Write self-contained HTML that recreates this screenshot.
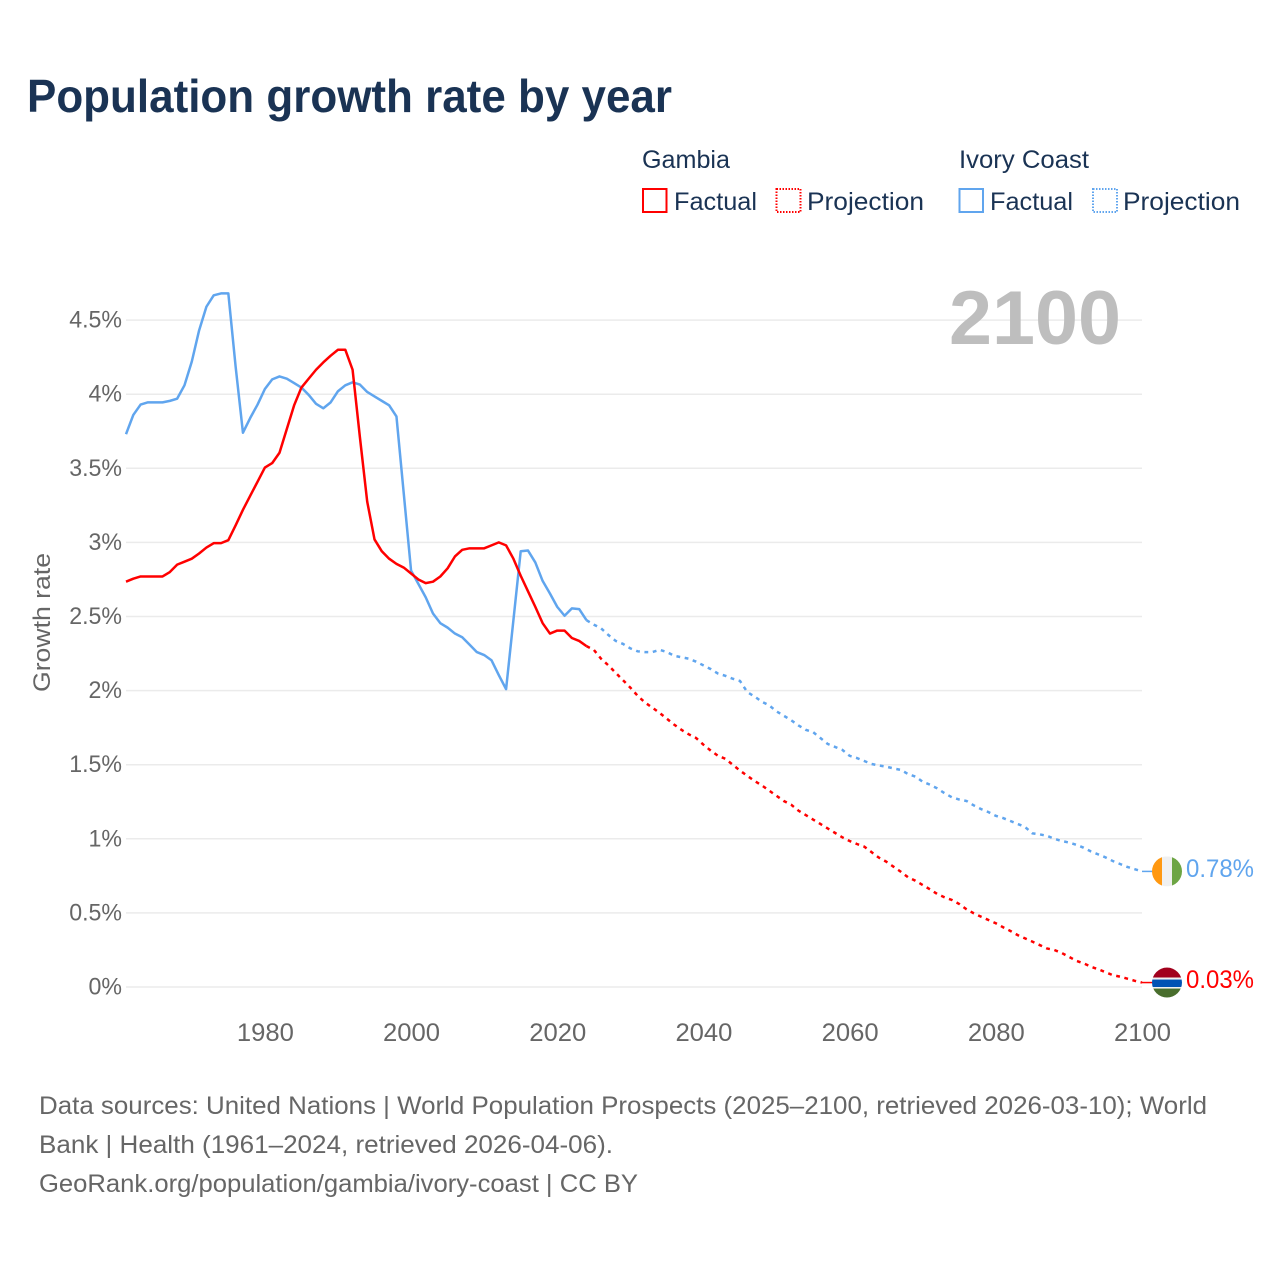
<!DOCTYPE html>
<html lang="en">
<head>
<meta charset="utf-8">
<title>Population growth rate by year</title>
<style>
html,body{margin:0;padding:0;background:#fff;width:1280px;height:1280px;overflow:hidden}
svg{display:block;font-family:"Liberation Sans",sans-serif}
</style>
</head>
<body>
<svg id="chart" xmlns="http://www.w3.org/2000/svg" width="1280" height="1280" viewBox="0 0 1280 1280">
  <rect width="1280" height="1280" fill="#ffffff"/>
  <text x="27" y="112" font-size="46" font-weight="700" fill="#1a3354" textLength="645" lengthAdjust="spacingAndGlyphs">Population growth rate by year</text>

  <g font-size="25" fill="#1a3354">
    <text x="642" y="168" textLength="88" lengthAdjust="spacingAndGlyphs">Gambia</text>
    <text x="959" y="168" textLength="130" lengthAdjust="spacingAndGlyphs">Ivory Coast</text>
    <rect x="643" y="189" width="23.5" height="23" fill="none" stroke="#ff0000" stroke-width="2"/>
    <text x="674" y="210" textLength="83" lengthAdjust="spacingAndGlyphs">Factual</text>
    <rect x="776.5" y="189" width="24" height="23" fill="none" stroke="#ff0000" stroke-width="2" stroke-dasharray="1.5 1.5"/>
    <text x="807" y="210" textLength="117" lengthAdjust="spacingAndGlyphs">Projection</text>
    <rect x="959.5" y="189" width="23.5" height="23" fill="none" stroke="#60a5ee" stroke-width="2"/>
    <text x="990" y="210" textLength="83" lengthAdjust="spacingAndGlyphs">Factual</text>
    <rect x="1093" y="189" width="24" height="23" fill="none" stroke="#60a5ee" stroke-width="2" stroke-dasharray="1.5 1.5"/>
    <text x="1123" y="210" textLength="117" lengthAdjust="spacingAndGlyphs">Projection</text>
  </g>

  <g id="grid"></g>
  <text x="949" y="344" font-size="76" font-weight="700" fill="#bebebe" textLength="172" lengthAdjust="spacingAndGlyphs">2100</text>
  <g id="y-ticks"></g>
  <g id="x-ticks"></g>
  <text transform="translate(50 692) rotate(-90)" font-size="24" fill="#666666" textLength="139" lengthAdjust="spacingAndGlyphs">Growth rate</text>

  <g id="series"></g>
  <g id="ends"></g>

  <g font-size="25" fill="#666666">
    <text x="39" y="1114" textLength="1168" lengthAdjust="spacingAndGlyphs">Data sources: United Nations | World Population Prospects (2025–2100, retrieved 2026-03-10); World</text>
    <text x="39" y="1153" textLength="574" lengthAdjust="spacingAndGlyphs">Bank | Health (1961–2024, retrieved 2026-04-06).</text>
    <text x="39" y="1192" textLength="599" lengthAdjust="spacingAndGlyphs">GeoRank.org/population/gambia/ivory-coast | CC BY</text>
  </g>
</svg>
<script>
const factualStartYear = 1961;
const lastFactualYear = 2024;
const lastProjectionYear = 2100;
const yTickValues = [0, 0.5, 1, 1.5, 2, 2.5, 3, 3.5, 4, 4.5];
const yTickLabels = ['0%', '0.5%', '1%', '1.5%', '2%', '2.5%', '3%', '3.5%', '4%', '4.5%'];
const xTickYears = [1980, 2000, 2020, 2040, 2060, 2080, 2100];

// Values for each year from 1961 to 2024 (percent)
const gambiaFactual = [
  2.735, 2.755, 2.77, 2.77, 2.77, 2.77, 2.80, 2.85, 2.87, 2.89,
  2.925, 2.965, 2.995, 2.995, 3.015, 3.115, 3.22, 3.315, 3.41, 3.505,
  3.535, 3.605, 3.765, 3.925, 4.045, 4.105, 4.165, 4.215, 4.26, 4.30,
  4.30, 4.165, 3.71, 3.275, 3.02, 2.94, 2.89, 2.855, 2.83, 2.79,
  2.75, 2.725, 2.735, 2.77, 2.825, 2.905, 2.95, 2.96, 2.96, 2.96,
  2.98, 3.0, 2.98, 2.89, 2.775, 2.67, 2.565, 2.455, 2.385, 2.405,
  2.405, 2.355, 2.335, 2.30
];
const ivoryFactual = [
  3.73, 3.86, 3.93, 3.945, 3.945, 3.945, 3.955, 3.97, 4.06, 4.22,
  4.43, 4.59, 4.667, 4.68, 4.68, 4.185, 3.74, 3.84, 3.93, 4.035,
  4.10, 4.12, 4.105, 4.075, 4.045, 3.995, 3.935, 3.905, 3.945, 4.02,
  4.06, 4.08, 4.065, 4.015, 3.985, 3.955, 3.925, 3.85, 3.33, 2.81,
  2.72, 2.63, 2.52, 2.455, 2.425, 2.385, 2.36, 2.31, 2.26, 2.24,
  2.205, 2.105, 2.01, 2.475, 2.94, 2.945, 2.865, 2.74, 2.655, 2.565,
  2.505, 2.555, 2.55, 2.475
];
// Values for each year from 2025 to 2100 (percent)
const gambiaProjection = [
  2.275, 2.215, 2.17, 2.12, 2.07, 2.02, 1.965, 1.92, 1.885, 1.85,
  1.81, 1.77, 1.735, 1.705, 1.68, 1.635, 1.595, 1.56, 1.54, 1.50,
  1.46, 1.425, 1.39, 1.36, 1.325, 1.29, 1.255, 1.23, 1.19, 1.16,
  1.13, 1.10, 1.07, 1.04, 1.01, 0.985, 0.965, 0.947, 0.91, 0.873,
  0.846, 0.812, 0.778, 0.74, 0.717, 0.688, 0.659, 0.627, 0.605, 0.587,
  0.56, 0.524, 0.497, 0.474, 0.452, 0.43, 0.403, 0.378, 0.35, 0.328,
  0.306, 0.283, 0.26, 0.25, 0.23, 0.204, 0.177, 0.16, 0.137, 0.12,
  0.10, 0.08, 0.07, 0.056, 0.042, 0.03
];
const ivoryProjection = [
  2.445, 2.42, 2.375, 2.335, 2.315, 2.285, 2.265, 2.26, 2.26, 2.275,
  2.26, 2.235, 2.225, 2.215, 2.195, 2.17, 2.145, 2.115, 2.10, 2.08,
  2.065, 1.99, 1.96, 1.925, 1.90, 1.86, 1.83, 1.80, 1.765, 1.735,
  1.72, 1.68, 1.64, 1.62, 1.60, 1.56, 1.545, 1.525, 1.505, 1.495,
  1.487, 1.475, 1.465, 1.437, 1.42, 1.385, 1.365, 1.34, 1.307, 1.28,
  1.265, 1.255, 1.225, 1.20, 1.18, 1.155, 1.14, 1.12, 1.10, 1.08,
  1.037, 1.03, 1.02, 1.00, 0.985, 0.975, 0.96, 0.94, 0.915, 0.895,
  0.875, 0.85, 0.83, 0.81, 0.795, 0.78
];

const NS = 'http://www.w3.org/2000/svg';
const plotLeft = 126, plotRight = 1142, plotZero = 987, pxPerPercent = 148.2;
const RED = '#ff0000', BLUE = '#60a5ee';
const xScale = year => plotLeft + (year - factualStartYear) * (plotRight - plotLeft) / (lastProjectionYear - factualStartYear);
const yScale = value => plotZero - value * pxPerPercent;

function make(tag, parent, attrs) {
  const el = document.createElementNS(NS, tag);
  for (const k in attrs) el.setAttribute(k, attrs[k]);
  parent.appendChild(el);
  return el;
}
function pathFrom(values, startYear) {
  return values.map((v, i) => (i ? 'L' : 'M') + xScale(startYear + i).toFixed(2) + ' ' + yScale(v).toFixed(2)).join(' ');
}

const gridG = document.getElementById('grid');
const yTicksG = document.getElementById('y-ticks');
const xTicksG = document.getElementById('x-ticks');
const seriesG = document.getElementById('series');
const endsG = document.getElementById('ends');

yTickValues.forEach((v, i) => {
  const line = make('line', gridG, { x1: plotLeft, x2: plotRight, y1: yScale(v), y2: yScale(v), stroke: '#ebebeb', 'stroke-width': 1.5 });
  
  
  const label = make('text', yTicksG, { x: 122, y: yScale(v) + 7.5, 'text-anchor': 'end', 'font-size': 24, fill: '#666666' });
  label.textContent = yTickLabels[i];
  
  
  label.setAttribute('textLength', (label.getComputedTextLength() * 0.965).toFixed(1));
  label.setAttribute('lengthAdjust', 'spacingAndGlyphs');
});

xTickYears.forEach(year => {
  const label = make('text', xTicksG, { x: xScale(year) + 0.5, y: 1041, 'text-anchor': 'middle', 'font-size': 25, fill: '#666666', textLength: 57, lengthAdjust: 'spacingAndGlyphs' });
  label.textContent = String(year);
  
  
});

function drawSeries(name, color, factual, projection) {
  const solid = make('path', seriesG, { d: pathFrom(factual, factualStartYear), fill: 'none', stroke: color, 'stroke-width': 2.5, 'stroke-linejoin': 'round' });
  
  
  const joined = [factual[factual.length - 1]].concat(projection);
  const dashed = make('path', seriesG, { d: pathFrom(joined, lastFactualYear), fill: 'none', stroke: color, 'stroke-width': 2.5, 'stroke-dasharray': '3.8 4.6' });
  
  
}
drawSeries('ivory-coast', BLUE, ivoryFactual, ivoryProjection);
drawSeries('gambia', RED, gambiaFactual, gambiaProjection);

const flagX = 1167;
function endCommon(name, color, value) {
  const y = yScale(value);
  const tail = make('line', endsG, { x1: plotRight, x2: flagX - 14, y1: y, y2: y, stroke: color, 'stroke-width': 1.5 });
  
  
  const label = make('text', endsG, { x: 1186, y: y + 5.5, 'font-size': 25, fill: color, textLength: 68, lengthAdjust: 'spacingAndGlyphs' });
  label.textContent = value.toFixed(2) + '%';
  
  
  return y;
}
function flagBands(name, cy, bands, vertical) {
  const group = make('g', endsG, {});
  
  
  const clipId = 'clip-' + name;
  const clip = make('clipPath', group, { id: clipId });
  make('circle', clip, { cx: flagX, cy: cy, r: 15 });
  const inner = make('g', group, { 'clip-path': 'url(#' + clipId + ')' });
  let offset = -15;
  bands.forEach(band => {
    const attrs = vertical
      ? { x: flagX + offset, y: cy - 15, width: band[0], height: 30, fill: band[1] }
      : { x: flagX - 15, y: cy + offset, width: 30, height: band[0], fill: band[1] };
    make('rect', inner, attrs);
    offset += band[0];
  });
}
const ivoryEndY = endCommon('ivory-coast', BLUE, ivoryProjection[ivoryProjection.length - 1]);
flagBands('ivory-coast', ivoryEndY, [[10, '#ff9811'], [10, '#f0f0f0'], [10, '#6da544']], true);
const gambiaEndY = endCommon('gambia', RED, gambiaProjection[gambiaProjection.length - 1]);
flagBands('gambia', gambiaEndY, [[10, '#a2001d'], [2, '#f0f0f0'], [7.5, '#0052b4'], [1.5, '#f0f0f0'], [9, '#496e2d']], false);
</script>
</body>
</html>
